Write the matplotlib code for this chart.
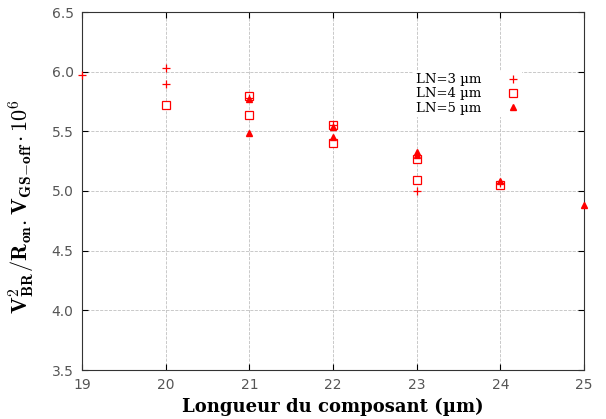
import matplotlib.pyplot as plt

# data
x_ln3 = [19, 20, 20, 21, 22, 23, 24]
y_ln3 = [5.97, 6.03, 5.90, 5.78, 5.55, 5.00, 5.07]

x_ln4 = [20, 21, 21, 22, 22, 23, 23, 24]
y_ln4 = [5.72, 5.80, 5.64, 5.55, 5.40, 5.27, 5.09, 5.05]

x_ln5 = [21, 21, 22, 22, 23, 23, 24, 25]
y_ln5 = [5.49, 5.77, 5.54, 5.45, 5.33, 5.30, 5.08, 4.88]

x_ticks = [19, 20, 21, 22, 23, 24, 25]
y_ticks = [3.5, 4.0, 4.5, 5.0, 5.5, 6.0, 6.5]

plt.rcParams['mathtext.fontset'] = 'cm'

fig = plt.figure(figsize=(6.06, 4.19), dpi=100)
ax = fig.add_axes([82/606, 1 - 370/419, (584-82)/606, (370-12)/419])

ax.plot(x_ln3, y_ln3, '+', color='red', mec='red', markersize=6, mew=0.9,
        label='LN=3 µm', clip_on=False, zorder=5)
ax.plot(x_ln4, y_ln4, 's', color='red', mec='red', mfc='white', markersize=5.5,
        mew=0.9, label='LN=4 µm', clip_on=False, zorder=4)
ax.plot(x_ln5, y_ln5, '^', color='red', mec='red', mfc='red', markersize=4.5,
        label='LN=5 µm', clip_on=False, zorder=5)

ax.set_xlim(19, 25)
ax.set_ylim(3.5, 6.5)
ax.set_xticks(x_ticks)
ax.set_yticks(y_ticks)
ax.set_yticklabels([f'{v:.1f}' for v in y_ticks])
ax.tick_params(direction='in', top=True, right=True, length=4, labelsize=10,
               labelcolor='#555555', pad=6)

# Grid for subtle reference
ax.grid(True, color='#c0c0c0', linestyle='--', linewidth=0.6)
for s in ax.spines.values():
    s.set_color('#333333')

ax.set_xlabel('Longueur du composant (µm)', fontsize=13, fontweight='bold',
              family='DejaVu Serif', labelpad=4)
ax.set_ylabel(r'$\mathbf{V_{BR}^2/R_{on}{.}V_{GS\!-\!off}\,{\cdot}\,10^6}$',
              fontsize=16)
ax.yaxis.set_label_coords(-0.09, 0.455)

leg = ax.legend(loc='upper right', bbox_to_anchor=(0.89, 0.855), markerfirst=False,
                frameon=True, fancybox=False, edgecolor='none', framealpha=1,
                prop={'family': 'DejaVu Serif', 'size': 9.5}, handlelength=1,
                labelspacing=0.1, borderpad=0.2, handletextpad=1.9)

plt.savefig('out.png', dpi=100)
